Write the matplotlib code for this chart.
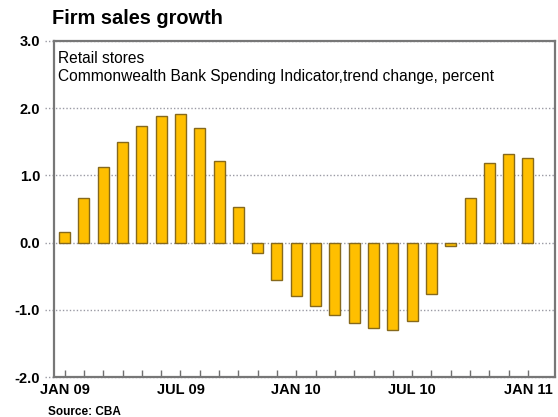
import matplotlib
matplotlib.use("Agg")
import matplotlib.pyplot as plt
import numpy as np

plt.rcParams['font.family'] = ['Liberation Sans', 'DejaVu Sans']

# Monthly CBA spending indicator, Jan 2009 - Jan 2011
months = ['JAN 09', 'FEB 09', 'MAR 09', 'APR 09', 'MAY 09', 'JUN 09',
          'JUL 09', 'AUG 09', 'SEP 09', 'OCT 09', 'NOV 09', 'DEC 09',
          'JAN 10', 'FEB 10', 'MAR 10', 'APR 10', 'MAY 10', 'JUN 10',
          'JUL 10', 'AUG 10', 'SEP 10', 'OCT 10', 'NOV 10', 'DEC 10',
          'JAN 11']
growth = [0.16, 0.67, 1.12, 1.49, 1.74, 1.89, 1.92, 1.70, 1.21, 0.53,
          -0.16, -0.56, -0.79, -0.95, -1.08, -1.20, -1.27, -1.30, -1.17,
          -0.76, -0.05, 0.67, 1.18, 1.32, 1.26]
yticks = [3.0, 2.0, 1.0, 0.0, -1.0, -2.0]
label_every = 6

fig = plt.figure(figsize=(5.58, 4.17), dpi=100)
ax = fig.add_axes([0.0968, 0.0959, 0.8978, 0.8058])

x = np.arange(len(months))
ax.bar(x, growth, width=0.57, color='#FFBF00', edgecolor='#86691c',
       linewidth=1.0, zorder=3)

ax.set_xlim(-0.55, 25.4)
ax.set_ylim(-2, 3)

# dotted gridlines that run a little past the left spine
for y in yticks:
    ax.plot([-0.018, 1], [y, y], transform=ax.get_yaxis_transform(),
            ls=(0, (1, 1.5)), color='#9a9aa4', lw=1.0, clip_on=False,
            zorder=1)

ax.set_yticks(yticks)
ax.set_yticklabels(['%.1f' % v for v in yticks], fontweight='bold',
                   fontsize=10.5)
ax.tick_params(axis='y', length=0, pad=10)

ax.set_xticks(x)
ax.set_xticklabels([m if i % label_every == 0 else ''
                    for i, m in enumerate(months)],
                   fontweight='bold', fontsize=10.5)
ax.tick_params(axis='x', direction='in', length=5, width=1.0,
               color='#707070', pad=4)

for s in ax.spines.values():
    s.set_color('#777777')
    s.set_linewidth(1.6)

fig.text(0.093, 0.955, 'Firm sales growth', fontsize=14.4, fontweight='bold',
         va='center', ha='left')
ax.text(0.008, 0.97, 'Retail stores\nCommonwealth Bank Spending Indicator,'
        'trend change, percent', transform=ax.transAxes, fontsize=11.2,
        va='top', ha='left', linespacing=1.22)
fig.text(0.086, 0.012, 'Source: CBA', fontsize=8.5, fontweight='bold',
         va='center', ha='left')

fig.savefig('out.png', dpi=100)
